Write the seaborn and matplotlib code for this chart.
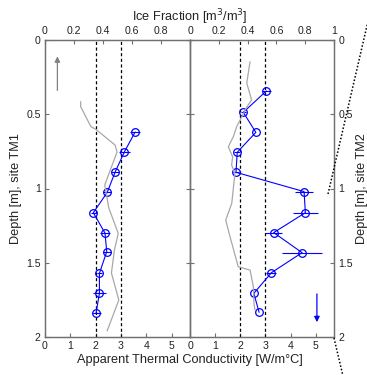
import matplotlib
matplotlib.use("Agg")
import matplotlib.pyplot as plt
from matplotlib.lines import Line2D
import seaborn as sns
import pandas as pd

# ---------------- data ----------------
# Site TM1: apparent thermal conductivity vs depth
tm1_depth = [0.62, 0.756, 0.89, 1.026, 1.163, 1.30, 1.425, 1.571, 1.706, 1.836]
tm1_cond = [3.56, 3.13, 2.77, 2.46, 1.91, 2.37, 2.44, 2.15, 2.15, 2.02]
tm1_err = [0.2, 0.22, 0.15, 0.15, 0.1, 0.2, 0.15, 0.1, 0.25, 0.18]

# Site TM1: ice fraction profile
tm1_ice_depth = [0.415, 0.449, 0.584, 0.601, 0.707, 0.754, 0.976, 1.131, 1.302, 1.414, 1.569, 1.751, 1.96]
tm1_ice = [0.246, 0.246, 0.317, 0.350, 0.483, 0.497, 0.412, 0.440, 0.505, 0.479, 0.458, 0.509, 0.428]

# Site TM2: apparent thermal conductivity vs depth
tm2_depth = [0.343, 0.487, 0.622, 0.756, 0.891, 1.021, 1.163, 1.297, 1.432, 1.567, 1.706, 1.834]
tm2_cond = [3.04, 2.12, 2.62, 1.88, 1.83, 4.54, 4.59, 3.33, 4.46, 3.24, 2.54, 2.75]
tm2_err = [0.19, 0.1, 0.0, 0.12, 0.12, 0.36, 0.5, 0.33, 0.81, 0.2, 0.0, 0.0]

# Site TM2: ice fraction profile
tm2_ice_depth = [0.146, 0.29, 0.404, 0.45, 0.584, 0.651, 0.719, 0.786, 0.842, 0.898,
                 1.10, 1.212, 1.325, 1.527, 1.549, 1.661, 1.773, 1.818]
tm2_ice = [0.417, 0.394, 0.428, 0.395, 0.324, 0.301, 0.266, 0.296, 0.289, 0.312,
           0.29, 0.248, 0.278, 0.335, 0.417, 0.44, 0.444, 0.451]

ref_lines = [2, 3]
cond_ticks = [0, 1, 2, 3, 4, 5]
ice_ticks = [0, 0.2, 0.4, 0.6, 0.8, 1]
depth_ticks = [0, 0.5, 1, 1.5, 2]

# ---------------- style ----------------
sns.set_theme(style="white")
plt.rcParams["font.family"] = ["Liberation Sans", "DejaVu Sans"]
TXT = "#222222"
SPINE = "#707070"
BLUE = "#0000FF"
GRAY = "#A8A8A8"
FS_T = 7.6
FS_L = 9.2

W, H = 367, 375
fig = plt.figure(figsize=(W / 100, H / 100), dpi=100)

def fx(px):
    return px / W

def fy(py):
    return 1 - py / H

top, bot = 40, 337
axL = fig.add_axes([fx(45), fy(bot), fx(190) - fx(45), fy(top) - fy(bot)])
axR = fig.add_axes([fx(190), fy(bot), fx(334) - fx(190), fy(top) - fy(bot)])

XMAX = 5.73

def style_axes(ax):
    for s in ax.spines.values():
        s.set_color(SPINE)
        s.set_linewidth(0.9)
    ax.tick_params(direction="in", length=3, width=0.8, color=SPINE,
                   labelsize=FS_T, labelcolor=TXT, pad=3)

for ax, cond, depth, err, ice, icedepth, side in [
    (axL, tm1_cond, tm1_depth, tm1_err, tm1_ice, tm1_ice_depth, "left"),
    (axR, tm2_cond, tm2_depth, tm2_err, tm2_ice, tm2_ice_depth, "right"),
]:
    df = pd.DataFrame({"cond": cond, "depth": depth})
    ax.errorbar(cond, depth, xerr=err, fmt="none", ecolor=BLUE, elinewidth=0.8,
                capsize=0, zorder=3)
    sns.lineplot(data=df, x="cond", y="depth", orient="y", ax=ax, color=BLUE,
                 linewidth=0.8, marker="o", markersize=5.5, markerfacecolor="none",
                 markeredgecolor=BLUE, markeredgewidth=0.9, zorder=4)
    for r in ref_lines:
        ax.axvline(r, color="black", linestyle=(0, (2.5, 2)), linewidth=0.9, zorder=2)
    ax.set_xlim(0, XMAX)
    ax.set_ylim(2, 0)
    ax.set_xticks(cond_ticks)
    ax.set_xticklabels([str(t) for t in cond_ticks])
    ax.set_yticks(depth_ticks)
    ax.set_xlabel("")
    ax.set_ylabel("")
    style_axes(ax)
    ax.yaxis.set_ticks_position("both")
    if side == "left":
        ax.tick_params(axis="y", labelleft=True, labelright=False)
    else:
        ax.tick_params(axis="y", labelleft=False, labelright=True)
    ax.set_yticklabels(["0", "0.5", "1", "1.5", "2"])
    ax.xaxis.set_ticks_position("bottom")

    axT = ax.twiny()
    dfi = pd.DataFrame({"ice": ice, "depth": icedepth})
    sns.lineplot(data=dfi, x="ice", y="depth", orient="y", ax=axT, color=GRAY,
                 linewidth=0.9, zorder=1)
    axT.set_xlim(0, 1)
    axT.set_ylim(2, 0)
    axT.set_xticks(ice_ticks)
    labels = ["0", "0.2", "0.4", "0.6", "0.8", "1"]
    if side == "left":
        labels[-1] = ""
    axT.set_xticklabels(labels)
    axT.set_xlabel("")
    axT.set_ylabel("")
    style_axes(axT)
    axT.patch.set_visible(False)
    axT.tick_params(axis="x", top=True, bottom=False, labeltop=True, labelbottom=False)

# arrows
axL.annotate("", xy=(0.49, 0.11), xytext=(0.49, 0.34),
             arrowprops=dict(arrowstyle="-|>", color="#808080", lw=0.9,
                             mutation_scale=8, shrinkA=0, shrinkB=0))
axR.annotate("", xy=(5.05, 1.90), xytext=(5.05, 1.71),
             arrowprops=dict(arrowstyle="-|>", color=BLUE, lw=0.9,
                             mutation_scale=8, shrinkA=0, shrinkB=0))

# shared labels
fig.text(fx(190), fy(17), "Ice Fraction [m$^3$/m$^3$]", ha="center", va="center",
         fontsize=FS_L, color=TXT)
fig.text(fx(190), fy(360), "Apparent Thermal Conductivity [W/m\u00b0C]", ha="center",
         va="center", fontsize=FS_L, color=TXT)
fig.text(fx(16), fy(189), "Depth [m], site TM1", rotation=90, ha="center",
         va="center", fontsize=FS_L, color=TXT)
fig.text(fx(362), fy(189), "Depth [m], site TM2", rotation=90, ha="center",
         va="center", fontsize=FS_L, color=TXT)

# dotted connector lines on the right edge
fig.add_artist(Line2D([fx(369), fx(328)], [fy(17), fy(194)], transform=fig.transFigure,
                      color="black", linestyle=(0, (1, 1.3)), linewidth=1.1, clip_on=False))
fig.add_artist(Line2D([fx(334), fx(343)], [fy(338), fy(376)], transform=fig.transFigure,
                      color="black", linestyle=(0, (1, 1.3)), linewidth=1.1, clip_on=False))

fig.savefig("out.png", dpi=100, facecolor="white")
